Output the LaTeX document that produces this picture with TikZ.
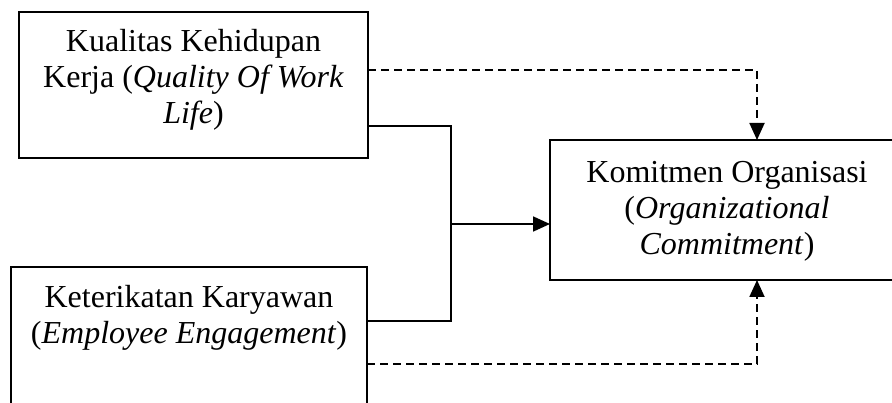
\documentclass[tikz,border=0pt]{standalone}
\usepackage{fontspec}
\setmainfont{Liberation Serif}
\usetikzlibrary{arrows.meta}
\tikzset{
  varbox/.style={draw, line width=1.8pt, rectangle, inner sep=0pt, outer sep=0pt, anchor=north west},
  link/.style={line width=1.8pt},
  dashlink/.style={link, dash pattern=on 8pt off 5pt},
  tip/.style={-{Triangle[length=17pt,width=15pt]}},
}
\begin{document}
\begin{tikzpicture}[x=1pt, y=-1pt, font=\fontsize{32pt}{36pt}\selectfont]
  \useasboundingbox (0,0) rectangle (892,403);
  \clip (0,0) rectangle (892,403);

  % independent variables
  \node[varbox] (q) at (19,12) {\parbox[c][146pt][t]{349pt}{\centering
      \rule{0pt}{40pt}Kualitas Kehidupan\\
      Kerja (\textit{Quality Of Work}\\
      \textit{Life})}};
  \node[varbox] (e) at (11,267) {\parbox[c][160pt][t]{356pt}{\centering
      \rule{0pt}{41pt}Keterikatan Karyawan\\
      (\textit{Employee Engagement})}};

  % dependent variable
  \node[varbox] (k) at (550,140) {\parbox[c][140pt][t]{354pt}{\centering
      \rule{0pt}{43pt}Komitmen Organisasi\\
      (\textit{Organizational}\\
      \textit{Commitment})}};

  % joint effect
  \coordinate (j) at (451,224);
  \draw[link] ([yshift=-114pt]q.north east) -| (j) |- ([yshift=-54pt]e.north east);
  \draw[link, tip] (j) -- (j -| k.west);

  % partial effects
  \draw[dashlink, tip] ([yshift=-58pt]q.north east) -| ([xshift=30pt]k.north);
  \draw[dashlink, tip] ([yshift=-97pt]e.north east) -| ([xshift=30pt]k.south);
\end{tikzpicture}
\end{document}
